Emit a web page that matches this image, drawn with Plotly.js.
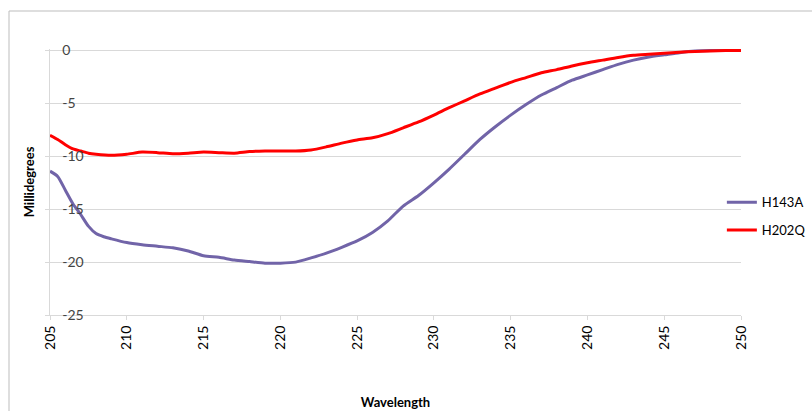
<!DOCTYPE html>
<html>
<head>
<meta charset="utf-8">
<script src="https://cdn.plot.ly/plotly-3.0.1.min.js"></script>
<style>html,body{margin:0;padding:0;background:#fff;}#chart{width:812px;height:411px;}</style>
</head>
<body>
<div id="chart"></div>
<script>
const wavelengthA = [205,205.5,206,206.5,207,207.5,208,208.5,209,210,211,212,213,214,215,216,217,218,219,220,221,222,223,224,225,226,227,228,229,230,231,232,233,234,235,236,237,238,239,240,241,242,243,244,245,246,247,248,249,250];
const h143a = [-11.4,-11.9,-13.2,-14.5,-15.5,-16.6,-17.3,-17.6,-17.8,-18.15,-18.35,-18.5,-18.65,-18.95,-19.4,-19.55,-19.8,-19.95,-20.1,-20.1,-20.0,-19.6,-19.15,-18.6,-18.0,-17.2,-16.1,-14.7,-13.7,-12.5,-11.2,-9.8,-8.4,-7.2,-6.1,-5.1,-4.2,-3.5,-2.8,-2.3,-1.8,-1.3,-0.9,-0.6,-0.4,-0.2,-0.05,0,0,0];
const wavelengthB = [205,205.5,206,206.5,207,207.5,208,209,210,211,212,213,214,215,216,217,218,219,220,221,222,223,224,225,226,227,228,229,230,231,232,233,234,235,236,237,238,239,240,241,242,243,244,245,246,247,248,249,250];
const h202q = [-8.0,-8.4,-8.9,-9.3,-9.5,-9.7,-9.8,-9.9,-9.8,-9.6,-9.65,-9.75,-9.7,-9.6,-9.65,-9.7,-9.55,-9.5,-9.5,-9.5,-9.4,-9.1,-8.75,-8.45,-8.25,-7.85,-7.3,-6.75,-6.1,-5.4,-4.75,-4.1,-3.55,-3.0,-2.55,-2.1,-1.8,-1.45,-1.15,-0.9,-0.65,-0.45,-0.35,-0.25,-0.15,-0.08,-0.03,0,0];
const seriesNames = ['H143A','H202Q'];
const xTicks = [205,210,215,220,225,230,235,240,245,250];
const yTicks = [0,-5,-10,-15,-20,-25];

const font = 'Lato, "Open Sans", sans-serif';
const traces = [
  {x: wavelengthA, y: h143a, name: seriesNames[0], mode: 'lines', type: 'scatter', legendgroup: 'a',
   line: {color: '#7164a8', width: 3, shape: 'spline', smoothing: 0.6}},
  {x: wavelengthB, y: h202q, name: seriesNames[1], mode: 'lines', type: 'scatter', legendgroup: 'b',
   line: {color: '#ff0000', width: 3, shape: 'spline', smoothing: 0.6}}
];
const L = 50, R = 71, T = 49, B = 96, W = 812, H = 411;
const pw = W - L - R, ph = H - T - B;
const layout = {
  width: W, height: H,
  margin: {l: L, r: R, t: T, b: B, pad: 0, autoexpand: false},
  paper_bgcolor: '#fff', plot_bgcolor: '#fff',
  font: {family: font, size: 13, color: '#000'},
  showlegend: true,
  legend: {xref: 'container', yref: 'container', x: 0.889, xanchor: 'left', y: 0.474, yanchor: 'middle',
           tracegroupgap: 8, font: {family: font, size: 13, color: '#000'}, bgcolor: 'rgba(0,0,0,0)'},
  xaxis: {range: [205, 250], tickvals: xTicks, ticktext: xTicks.map(String), tickangle: -90,
          ticklabeloverflow: 'allow',
          showgrid: false, zeroline: false, showline: true, linecolor: '#d9d9d9', linewidth: 1,
          ticks: 'outside', ticklen: 4, tickcolor: '#d9d9d9', tickfont: {size: 14},
          title: {text: 'Wavelength', font: {family: font, size: 13, weight: 'bold'}, standoff: 48}},
  yaxis: {range: [-25, 0.15], tickvals: yTicks, ticktext: yTicks.map(String),
          ticklabelposition: 'inside', ticklabeloverflow: 'allow', ticklabelstandoff: 12,
          showgrid: true, gridcolor: '#d9d9d9', gridwidth: 1,
          zeroline: false, showline: true, linecolor: '#d9d9d9', linewidth: 1,
          ticks: 'outside', ticklen: 4, tickcolor: '#d9d9d9', tickfont: {size: 14},
          title: {text: 'Millidegrees', font: {family: font, size: 13, weight: 'bold'}, standoff: 24}},
  shapes: [
    {type: 'line', xref: 'paper', yref: 'paper', x0: (9 - L) / pw, x1: (W - L) / pw + 0.01,
     y0: (H - B - 11) / ph, y1: (H - B - 11) / ph, line: {color: '#bdbdbd', width: 1}},
    {type: 'line', xref: 'paper', yref: 'paper', x0: (9 - L) / pw, x1: (9 - L) / pw,
     y0: (H - B - 11) / ph, y1: -B / ph - 0.01, line: {color: '#bdbdbd', width: 1}}
  ]
};
Plotly.newPlot('chart', traces, layout, {displayModeBar: false, staticPlot: true});
</script>
</body>
</html>
